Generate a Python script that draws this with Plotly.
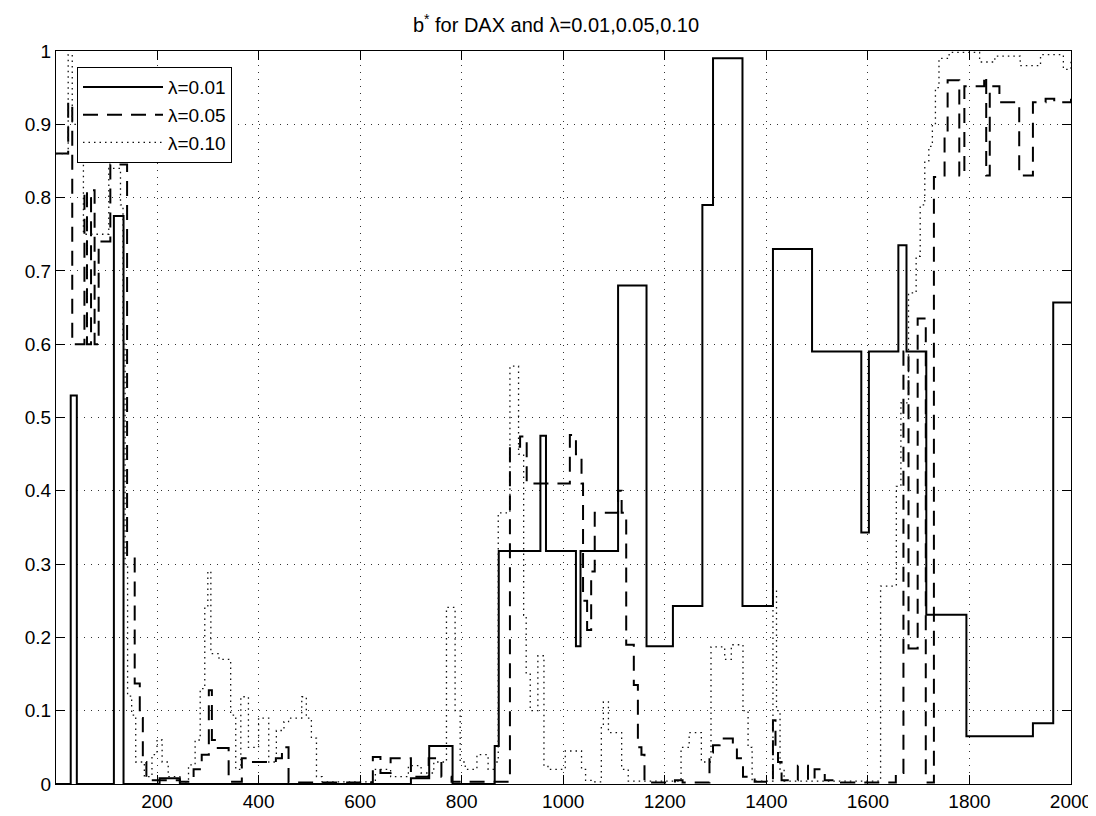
import plotly.graph_objects as go

# lambda = 0.01 (solid) : step breakpoints and values
x_l01 = [1, 30, 42, 115, 134, 205, 245, 700, 736, 782, 865, 873, 955, 966, 1025, 1034,
         1108, 1164, 1216, 1274, 1295, 1353, 1413, 1490, 1587, 1602, 1660, 1676, 1715,
         1794, 1925, 1965, 2000]
y_l01 = [0.0, 0.53, 0.0, 0.775, 0.0, 0.008, 0.0, 0.008, 0.052, 0.0, 0.052, 0.318, 0.475,
         0.318, 0.188, 0.318, 0.68, 0.188, 0.243, 0.79, 0.99, 0.243, 0.73, 0.59, 0.343,
         0.59, 0.735, 0.59, 0.231, 0.065, 0.083, 0.657, 0.657]

# lambda = 0.05 (dashed)
x_l05 = [1, 25, 33, 57, 62, 70, 77, 85, 108, 141, 156, 166, 172, 179, 245, 272, 288, 302,
         308, 317, 341, 367, 380, 434, 446, 459, 625, 640, 660, 700, 735, 760, 780, 895,
         915, 928, 1013, 1025, 1036, 1039, 1047, 1055, 1062, 1108, 1115, 1124, 1139, 1147,
         1154, 1160, 1220, 1235, 1288, 1295, 1308, 1334, 1342, 1354, 1377, 1413, 1418,
         1423, 1430, 1462, 1482, 1495, 1515, 1547, 1655, 1670, 1680, 1698, 1714, 1730,
         1751, 1757, 1780, 1790, 1829, 1833, 1840, 1859, 1898, 1925, 1950, 1967, 2000]
y_l05 = [0.86, 0.93, 0.60, 0.81, 0.60, 0.81, 0.60, 0.74, 0.845, 0.31, 0.137, 0.09, 0.03,
         0.005, 0.003, 0.02, 0.04, 0.128, 0.06, 0.049, 0.003, 0.035, 0.03, 0.035, 0.05,
         0.002, 0.037, 0.015, 0.035, 0.01, 0.035, 0.01, 0.003, 0.46, 0.474, 0.41, 0.476,
         0.45, 0.41, 0.25, 0.21, 0.29, 0.37, 0.40, 0.37, 0.19, 0.135, 0.05, 0.04, 0.002,
         0.005, 0.002, 0.043, 0.053, 0.062, 0.049, 0.035, 0.01, 0.003, 0.087, 0.05, 0.03,
         0.005, 0.025, 0.005, 0.02, 0.005, 0.002, 0.015, 0.59, 0.185, 0.635, 0.002, 0.828,
         0.889, 0.96, 0.83, 0.952, 0.966, 0.83, 0.952, 0.93, 0.83, 0.93, 0.935, 0.93, 0.935]

# lambda = 0.10 (dotted)
x_l10 = [1, 25, 33, 45, 55, 105, 128, 133, 137, 142, 150, 158, 175, 190, 200, 210, 222,
         245, 262, 275, 285, 294, 300, 306, 322, 345, 355, 365, 380, 400, 420, 435, 450,
         459, 475, 485, 494, 504, 514, 525, 630, 660, 695, 720, 745, 770, 787, 797, 807,
         830, 852, 865, 872, 895, 912, 922, 927, 935, 950, 962, 970, 1004, 1036, 1044,
         1062, 1075, 1079, 1089, 1115, 1128, 1232, 1248, 1272, 1291, 1318, 1331, 1354,
         1364, 1372, 1413, 1420, 1427, 1435, 1625, 1656, 1665, 1680, 1695, 1703, 1712,
         1720, 1727, 1733, 1740, 1760, 1820, 1850, 1900, 1940, 1985, 2000]
y_l10 = [0.86, 0.995, 0.9, 0.87, 0.75, 0.84, 0.79, 0.6, 0.3, 0.12, 0.094, 0.03, 0.01,
         0.04, 0.06, 0.03, 0.01, 0.003, 0.026, 0.06, 0.13, 0.24, 0.29, 0.178, 0.17, 0.094,
         0.02, 0.119, 0.05, 0.09, 0.03, 0.073, 0.085, 0.09, 0.09, 0.119, 0.09, 0.0625,
         0.01, 0.003, 0.02, 0.01, 0.025, 0.015, 0.03, 0.241, 0.1, 0.03, 0.02, 0.04, 0.02,
         0.03, 0.37, 0.57, 0.45, 0.23, 0.15, 0.1, 0.175, 0.024, 0.02, 0.045, 0.02, 0.005,
         0.003, 0.08, 0.112, 0.07, 0.02, 0.004, 0.05, 0.07, 0.03, 0.187, 0.17, 0.19, 0.1,
         0.05, 0.004, 0.266, 0.1, 0.02, 0.004, 0.27, 0.406, 0.52, 0.67, 0.72, 0.79, 0.85,
         0.87, 0.9, 0.95, 0.99, 0.998, 0.985, 0.993, 0.98, 0.995, 0.975, 0.99]

x_ticks = [200, 400, 600, 800, 1000, 1200, 1400, 1600, 1800, 2000]
y_ticks = [0, 0.1, 0.2, 0.3, 0.4, 0.5, 0.6, 0.7, 0.8, 0.9, 1]
y_tick_labels = ["0", "0.1", "0.2", "0.3", "0.4", "0.5", "0.6", "0.7", "0.8", "0.9", "1"]

FONT = "Liberation Sans, Arial, Helvetica, sans-serif"

fig = go.Figure()
fig.add_trace(go.Scatter(x=x_l01, y=y_l01, mode="lines", line_shape="hv",
                         name="λ=0.01", line=dict(color="black", width=2)))
fig.add_trace(go.Scatter(x=x_l05, y=y_l05, mode="lines", line_shape="hv",
                         name="λ=0.05", line=dict(color="black", width=2, dash="15px,9px")))
fig.add_trace(go.Scatter(x=x_l10, y=y_l10, mode="lines", line_shape="hv",
                         name="λ=0.10", line=dict(color="#111111", width=1.3, dash="1.5px,4px")))

axis_common = dict(showline=True, linecolor="black", linewidth=1, mirror="ticks",
                   ticks="inside", ticklen=9, tickcolor="black", tickwidth=1,
                   showgrid=True, gridcolor="#333333", gridwidth=1, griddash="1px,6px",
                   zeroline=False, tickfont=dict(family=FONT, size=19, color="black"))

fig.update_xaxes(range=[1, 2000], tickvals=x_ticks, **axis_common)
fig.update_yaxes(range=[0, 1], tickvals=y_ticks, ticktext=y_tick_labels, **axis_common)

fig.update_layout(
    width=1096, height=816,
    margin=dict(l=48, r=33, t=43, b=37),
    paper_bgcolor="white", plot_bgcolor="white",
    title=dict(text="b<sup>*</sup> for DAX and λ=0.01,0.05,0.10", x=0.5, xanchor="center",
               y=0.979, yanchor="middle", yref="container",
               font=dict(family=FONT, size=20, color="black")),
    legend=dict(x=0.0207, y=0.978, xanchor="left", yanchor="top",
                bgcolor="white", bordercolor="black", borderwidth=1,
                font=dict(family=FONT, size=19, color="black"),
                itemwidth=80),
    showlegend=True,
)

fig.write_html("out.html")
